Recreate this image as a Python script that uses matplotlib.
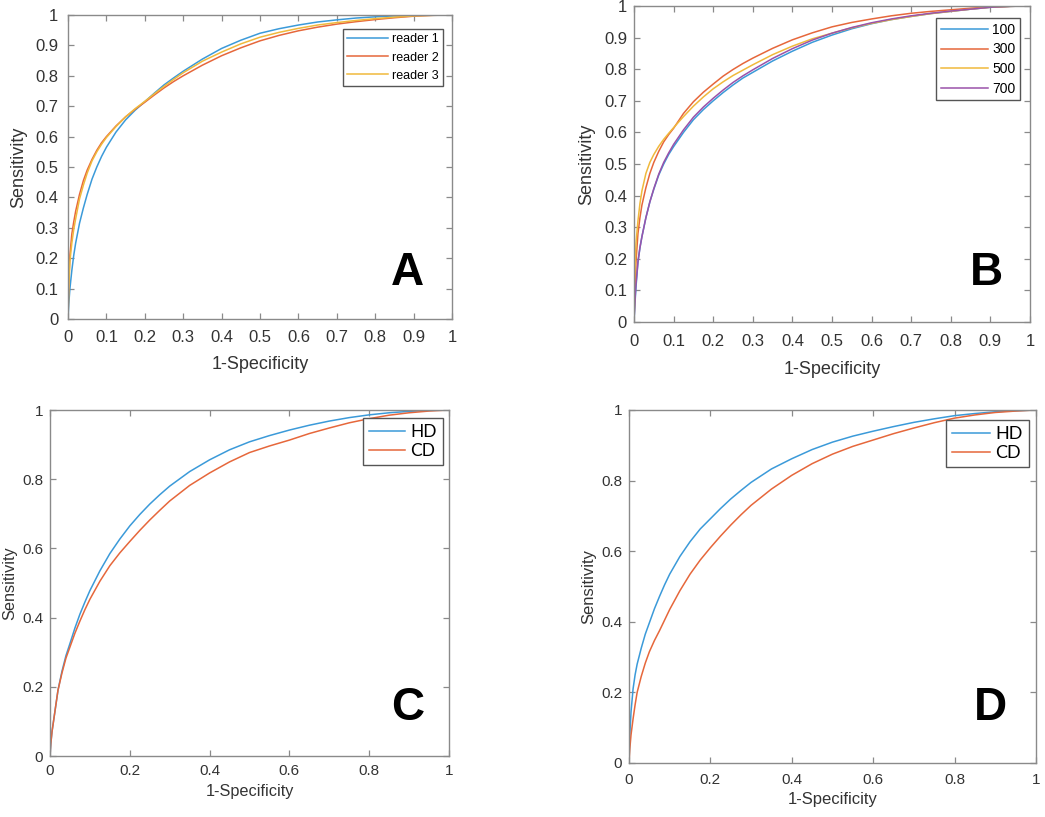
#!/usr/bin/env python3
"""Four ROC panels (A-D) redrawn in a MATLAB-like style."""
from __future__ import annotations

import matplotlib
matplotlib.use("Agg")
import matplotlib.pyplot as plt

# shared false-positive-rate grid (1-Specificity)
fpr = [0, 0.002, 0.005, 0.01, 0.015, 0.02, 0.03, 0.04, 0.05, 0.0625, 0.075,
       0.0875, 0.1, 0.125, 0.15, 0.175, 0.2, 0.225, 0.25, 0.275, 0.3, 0.35,
       0.4, 0.45, 0.5, 0.55, 0.6, 0.65, 0.7, 0.75, 0.8, 0.85, 0.9, 0.95, 1.0]

# panel A: readers
reader1 = [0, 0.05, 0.10, 0.16, 0.21, 0.25, 0.315, 0.365, 0.41, 0.46, 0.50,
           0.535, 0.565, 0.615, 0.655, 0.687, 0.715, 0.743, 0.77, 0.793, 0.815, 0.855,
           0.89, 0.917, 0.94, 0.955, 0.967, 0.977, 0.984, 0.99, 0.994, 0.997, 0.999, 1.0, 1.0]
reader2 = [0, 0.12, 0.21, 0.28, 0.32, 0.355, 0.41, 0.455, 0.49, 0.525, 0.555,
           0.58, 0.60, 0.635, 0.665, 0.69, 0.713, 0.737, 0.76, 0.781, 0.80, 0.835,
           0.866, 0.892, 0.915, 0.933, 0.948, 0.96, 0.97, 0.978, 0.985, 0.991, 0.996, 0.999, 1.0]
reader3 = [0, 0.10, 0.19, 0.25, 0.295, 0.33, 0.395, 0.44, 0.48, 0.52, 0.55,
           0.575, 0.597, 0.633, 0.665, 0.692, 0.716, 0.741, 0.765, 0.788, 0.81, 0.848,
           0.878, 0.905, 0.927, 0.943, 0.956, 0.967, 0.975, 0.982, 0.988, 0.993, 0.997, 0.999, 1.0]

# panel B: sample sizes
n100 = [0, 0.05, 0.11, 0.19, 0.235, 0.27, 0.33, 0.38, 0.42, 0.465, 0.50,
        0.53, 0.555, 0.60, 0.64, 0.672, 0.70, 0.726, 0.75, 0.772, 0.79, 0.826,
        0.857, 0.885, 0.908, 0.928, 0.944, 0.957, 0.967, 0.976, 0.983, 0.99, 0.996, 0.999, 1.0]
n300 = [0, 0.08, 0.19, 0.28, 0.33, 0.37, 0.425, 0.47, 0.505, 0.54, 0.57,
        0.593, 0.613, 0.66, 0.697, 0.727, 0.753, 0.778, 0.799, 0.818, 0.835, 0.866,
        0.893, 0.915, 0.934, 0.948, 0.959, 0.969, 0.977, 0.983, 0.988, 0.993, 0.997, 0.999, 1.0]
n500 = [0, 0.15, 0.25, 0.32, 0.375, 0.415, 0.47, 0.505, 0.53, 0.556, 0.578,
        0.597, 0.615, 0.65, 0.683, 0.712, 0.738, 0.76, 0.78, 0.797, 0.814, 0.846,
        0.873, 0.896, 0.914, 0.931, 0.945, 0.957, 0.967, 0.976, 0.983, 0.99, 0.996, 0.999, 1.0]
n700 = [0, 0.06, 0.12, 0.19, 0.235, 0.27, 0.33, 0.38, 0.422, 0.468, 0.505,
        0.535, 0.562, 0.608, 0.648, 0.68, 0.708, 0.734, 0.758, 0.779, 0.798, 0.834,
        0.865, 0.892, 0.914, 0.932, 0.947, 0.959, 0.969, 0.977, 0.984, 0.99, 0.996, 0.999, 1.0]

# panel C
hd_c = [0, 0.035, 0.07, 0.11, 0.15, 0.19, 0.245, 0.29, 0.325, 0.37, 0.41,
        0.445, 0.478, 0.535, 0.585, 0.627, 0.665, 0.698, 0.728, 0.755, 0.78, 0.822,
        0.856, 0.885, 0.908, 0.926, 0.942, 0.956, 0.968, 0.978, 0.986, 0.992, 0.996, 0.999, 1.0]
cd_c = [0, 0.035, 0.07, 0.11, 0.15, 0.19, 0.24, 0.283, 0.315, 0.355, 0.39,
        0.423, 0.453, 0.505, 0.55, 0.587, 0.62, 0.652, 0.682, 0.71, 0.737, 0.782,
        0.818, 0.85, 0.877, 0.896, 0.913, 0.932, 0.948, 0.963, 0.975, 0.985, 0.992, 0.997, 1.0]

# panel D
hd_d = [0, 0.08, 0.145, 0.21, 0.25, 0.28, 0.325, 0.365, 0.397, 0.437, 0.472,
        0.505, 0.535, 0.585, 0.627, 0.663, 0.692, 0.721, 0.748, 0.772, 0.795, 0.833,
        0.862, 0.888, 0.909, 0.926, 0.94, 0.953, 0.965, 0.975, 0.984, 0.99, 0.995, 0.998, 1.0]
cd_d = [0, 0.04, 0.08, 0.125, 0.165, 0.2, 0.245, 0.283, 0.315, 0.347, 0.375,
        0.405, 0.435, 0.488, 0.535, 0.575, 0.61, 0.643, 0.674, 0.703, 0.73, 0.776,
        0.815, 0.848, 0.875, 0.897, 0.915, 0.933, 0.949, 0.964, 0.977, 0.986, 0.993, 0.997, 1.0]

BLUE, ORANGE, YELLOW, PURPLE = "#3b9ad9", "#e6673b", "#f0b93c", "#9a52aa"
SPINE = "#8a8a8a"
TEXT = "#333333"
W, H = 1045, 817


def rect(left, right, top, bottom):
    return [left / W, 1 - bottom / H, (right - left) / W, (bottom - top) / H]


def style(ax, ticks, tick_size, label_size, pad_x, pad_y, labelpad_x, labelpad_y):
    ax.set_xlim(0, 1)
    ax.set_ylim(0, 1)
    ax.set_xticks(ticks, [f"{t:g}" for t in ticks])
    ax.set_yticks(ticks, [f"{t:g}" for t in ticks])
    for s in ax.spines.values():
        s.set_color(SPINE)
        s.set_linewidth(1.0)
    ax.tick_params(direction="in", top=True, right=True, length=4, width=0.9,
                   color=SPINE, labelcolor=TEXT, labelsize=tick_size)
    ax.tick_params(axis="x", pad=pad_x)
    ax.tick_params(axis="y", pad=pad_y)
    ax.set_xlabel("1-Specificity", fontsize=label_size, color=TEXT, labelpad=labelpad_x)
    ax.set_ylabel("Sensitivity", fontsize=label_size, color=TEXT, labelpad=labelpad_y)


def legend(ax, anchor, size, family, spacing, handle):
    leg = ax.legend(loc="upper right", bbox_to_anchor=anchor, borderaxespad=0,
                    fancybox=False, framealpha=1, edgecolor="#555555",
                    prop={"family": family, "size": size}, labelspacing=spacing,
                    handlelength=handle, handletextpad=0.3, borderpad=0.35)
    leg.get_frame().set_linewidth(1.0)


def main() -> None:
    plt.rcParams["font.family"] = ["Liberation Sans", "DejaVu Sans"]
    fig = plt.figure(figsize=(W / 100, H / 100), dpi=100)
    tenths = [i / 10 for i in range(11)]
    fifths = [i / 5 for i in range(6)]

    ax = fig.add_axes(rect(68, 452, 15, 319))
    ax.plot(fpr, reader1, color=BLUE, lw=1.1, label="reader 1")
    ax.plot(fpr, reader2, color=ORANGE, lw=1.1, label="reader 2")
    ax.plot(fpr, reader3, color=YELLOW, lw=1.1, label="reader 3")
    style(ax, tenths, 12, 13, 8, 7, 8, 6)
    legend(ax, (0.977, 0.954), 9, "Liberation Sans", 0.5, 3.3)
    ax.text(0.885, 0.151, "A", transform=ax.transAxes, ha="center", va="center",
            fontsize=33, fontweight="bold", color="black")

    ax = fig.add_axes(rect(634, 1030, 6, 322))
    ax.plot(fpr, n100, color=BLUE, lw=1.1, label="100")
    ax.plot(fpr, n300, color=ORANGE, lw=1.1, label="300")
    ax.plot(fpr, n500, color=YELLOW, lw=1.1, label="500")
    ax.plot(fpr, n700, color=PURPLE, lw=1.1, label="700")
    style(ax, tenths, 12, 13, 9, 5, 8, 6)
    legend(ax, (0.975, 0.962), 10, "Liberation Sans", 0.4, 3.4)
    ax.text(0.889, 0.155, "B", transform=ax.transAxes, ha="center", va="center",
            fontsize=33, fontweight="bold", color="black")

    ax = fig.add_axes(rect(50, 449, 410, 756))
    ax.plot(fpr, hd_c, color=BLUE, lw=1.1, label="HD")
    ax.plot(fpr, cd_c, color=ORANGE, lw=1.1, label="CD")
    style(ax, fifths, 11, 11.7, 6, 5, 4, 3)
    legend(ax, (0.985, 0.977), 12.5, "Lato", 0.15, 2.1)
    ax.text(0.897, 0.139, "C", transform=ax.transAxes, ha="center", va="center",
            fontsize=33, fontweight="bold", color="black")

    ax = fig.add_axes(rect(629, 1036, 410, 763))
    ax.plot(fpr, hd_d, color=BLUE, lw=1.1, label="HD")
    ax.plot(fpr, cd_d, color=ORANGE, lw=1.1, label="CD")
    style(ax, fifths, 11, 12, 7, 5, 4, 3)
    legend(ax, (0.983, 0.972), 13, "Lato", 0.15, 2.1)
    ax.text(0.889, 0.156, "D", transform=ax.transAxes, ha="center", va="center",
            fontsize=33, fontweight="bold", color="black")

    fig.savefig("out.png", dpi=100)
    plt.close(fig)


if __name__ == "__main__":
    main()
